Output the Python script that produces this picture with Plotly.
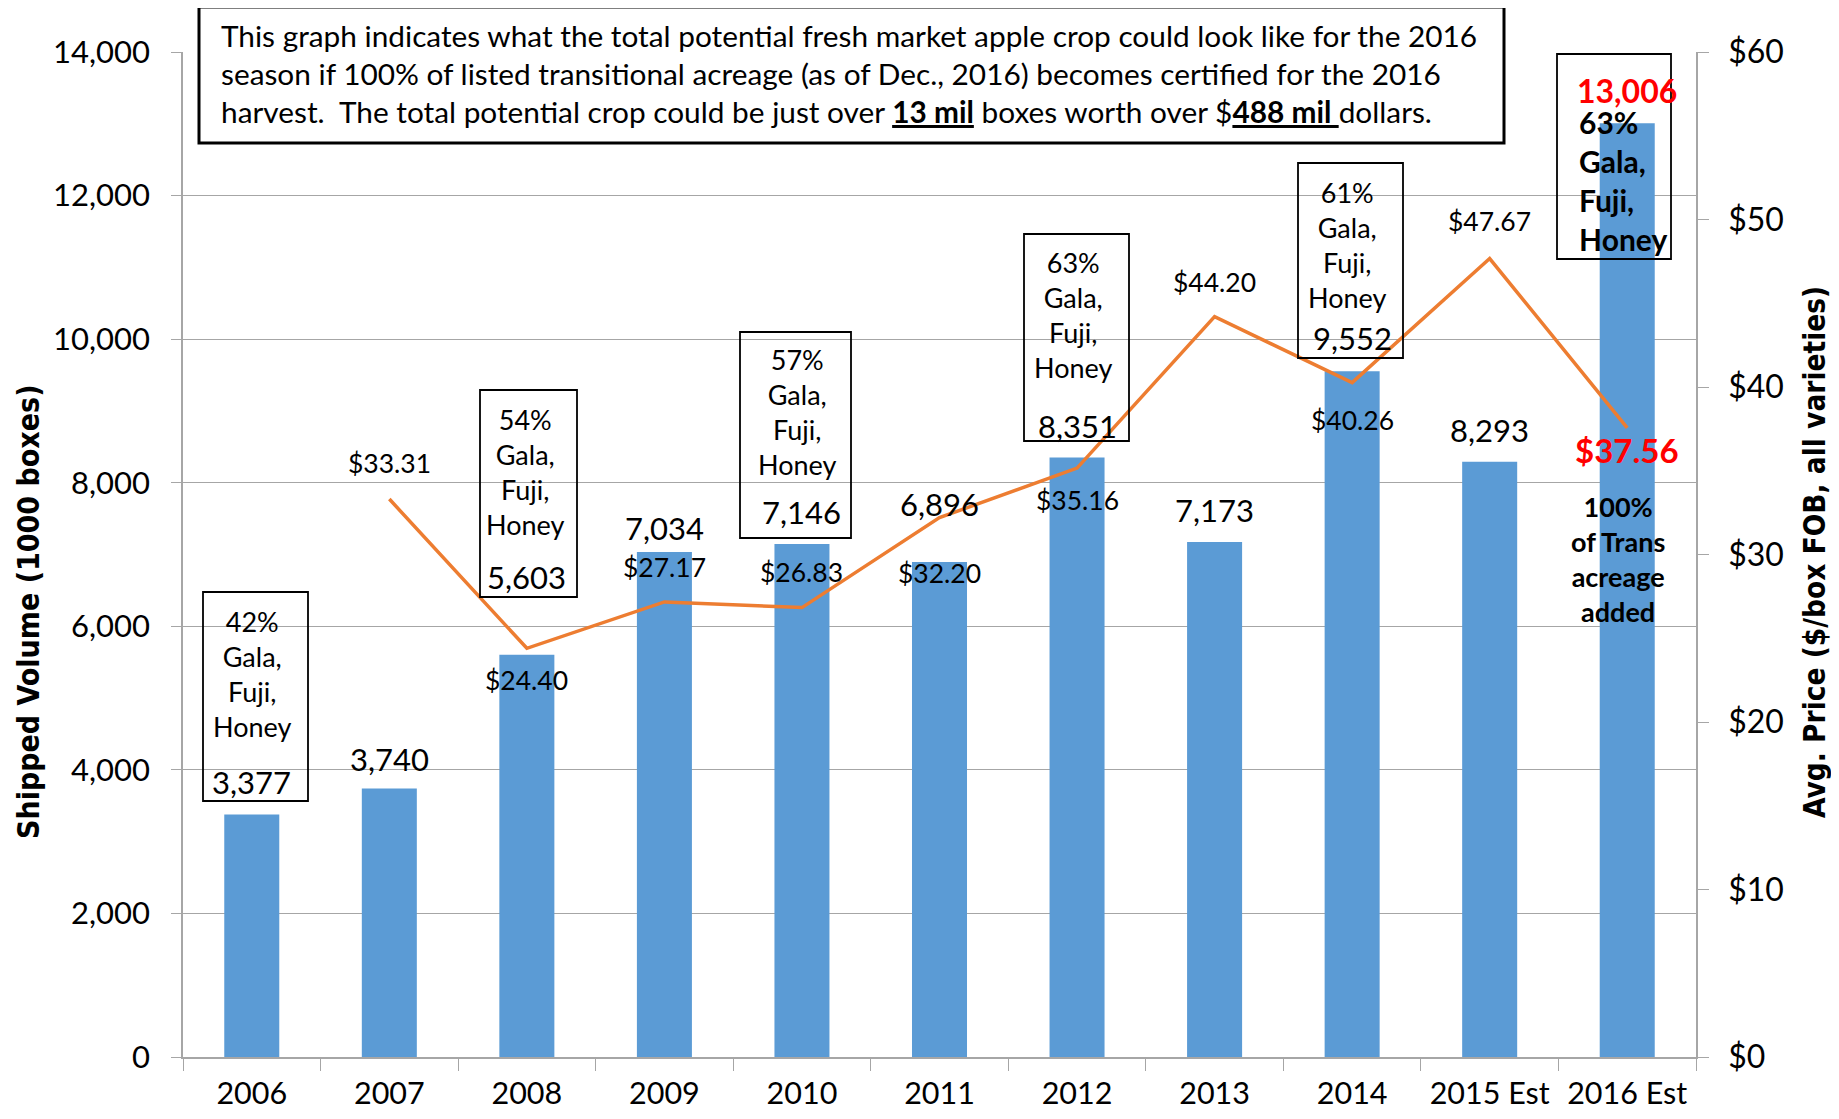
import plotly.graph_objects as go

# ---------------- data ----------------
years = ["2006", "2007", "2008", "2009", "2010", "2011", "2012", "2013", "2014", "2015 Est", "2016 Est"]
volume = [3377, 3740, 5603, 7034, 7146, 6896, 8351, 7173, 9552, 8293, 13006]
price_years = ["2007", "2008", "2009", "2010", "2011", "2012", "2013", "2014", "2015 Est", "2016 Est"]
price = [33.31, 24.40, 27.17, 26.83, 32.20, 35.16, 44.20, 40.26, 47.67, 37.56]
share_years = ["2006", "2008", "2010", "2012", "2014", "2016 Est"]
share_pct = ["42%", "54%", "57%", "63%", "61%", "63%"]

# ---------------- layout constants ----------------
# the page body has an 8px margin, so the figure is drawn 8px in from the window edges
OFF = 8
W, H = 1839 - 2 * OFF, 1119 - 2 * OFF
PX0, PX1, PY0, PY1 = 183 - OFF, 1696 - OFF, 52 - OFF, 1057 - OFF   # plot area in figure px
ML, MR, MT, MB = PX0, W - PX1, PY0, H - PY1
PW, PH = PX1 - PX0, PY1 - PY0

def px(x):  # window pixel -> paper x
    return (x - OFF - PX0) / PW

def py(y):  # window pixel -> paper y
    return (PY1 - (y - OFF)) / PH

FONT = "Lato, Carlito, Calibri, sans-serif"
NARROW = "Liberation Sans Narrow, Arial Narrow, DejaVu Sans Condensed, sans-serif"
GRID = "#a6a6a6"

# label offsets (pixels above the point; negative = below)
vol_shift = [33, 30, 78, 24, 32, 58, 32, 32, 33, 32, 33]
price_shift = [36, -32, 35, 36, -55, -32, 35, -37, 38, -22]

# text boxes in window pixel coords (x0, y0, x1, y1)
boxes = [(203, 592, 308, 801), (480, 390, 577, 597), (740, 332, 851, 538),
         (1024, 234, 1129, 441), (1298, 163, 1403, 358), (1557, 54, 1671, 259)]
box_text_pos = [(252, 674), (525, 472), (797, 412), (1073, 315), (1347, 245), (1577, 180)]

fig = go.Figure()
fig.add_trace(go.Bar(x=years, y=volume, marker=dict(color="#5B9BD5", line=dict(width=0)),
                     width=0.4, yaxis="y", showlegend=False))
fig.add_trace(go.Scatter(x=price_years, y=price, mode="lines",
                         line=dict(color="#ED7D31", width=3.5), yaxis="y2", showlegend=False))

ann = []
# volume labels
for i, v in enumerate(volume):
    last = i == len(years) - 1
    ann.append(dict(x=i, y=v, xref="x", yref="y", text=f"{v:,}", showarrow=False,
                    yanchor="middle", yshift=vol_shift[i],
                    font=dict(family=FONT, size=32 if last else 31,
                              color="#FF0000" if last else "#000000",
                              weight="bold" if last else "normal")))
# price labels
for i, (yr, p) in enumerate(zip(price_years, price)):
    last = i == len(price_years) - 1
    ann.append(dict(x=years.index(yr), y=p, xref="x", yref="y2", text=f"${p:.2f}",
                    showarrow=False, yanchor="middle", yshift=price_shift[i],
                    font=dict(family=FONT, size=33 if last else 26.5,
                              color="#FF0000" if last else "#000000",
                              weight="bold" if last else "normal")))
# share boxes text
for i, pct in enumerate(share_pct):
    last = i == len(share_pct) - 1
    tx, ty = box_text_pos[i]
    ann.append(dict(x=px(tx), y=py(ty), xref="paper", yref="paper",
                    text=f"{pct}<br>Gala,<br>Fuji,<br>Honey", showarrow=False,
                    xanchor="left" if last else "center", yanchor="middle",
                    align="left" if last else "center",
                    font=dict(family=FONT, size=30 if last else 27, color="#000000",
                              weight="bold" if last else "normal")))
# 2016 note
ann.append(dict(x=px(1618), y=py(559), xref="paper", yref="paper",
                text="100%<br>of Trans<br>acreage<br>added", showarrow=False,
                xanchor="center", yanchor="middle", align="center",
                font=dict(family=FONT, size=27, color="#000000", weight="bold")))
# title box text
title_lines = [
    "This graph indicates what the total potential fresh market apple crop could look like for the 2016",
    "season if 100% of listed transitional acreage (as of Dec., 2016) becomes certified for the 2016",
    "harvest.  The total potential crop could be just over <b><u>13 mil</u></b> boxes worth over $<b><u>488 mil </u></b>dollars.",
]
for line, ly in zip(title_lines, [36, 74, 112]):
    ann.append(dict(x=px(219), y=py(ly), xref="paper", yref="paper", text=line,
                    showarrow=False, xanchor="left", yanchor="middle", align="left",
                    font=dict(family=FONT, size=29.8, color="#000000")))
# axis titles
ann.append(dict(x=px(28), y=py(612), xref="paper", yref="paper",
                text="<b>Shipped Volume (1000 boxes)</b>", textangle=-90, showarrow=False,
                xanchor="center", yanchor="middle",
                font=dict(family=NARROW, size=30, color="#000000")))
ann.append(dict(x=px(1815), y=py(552), xref="paper", yref="paper",
                text="<b>Avg. Price ($/box FOB, all varieties)</b>", textangle=-90, showarrow=False,
                xanchor="center", yanchor="middle",
                font=dict(family=NARROW, size=29.5, color="#000000")))

shapes = []
for (x0, y0, x1, y1) in boxes:
    shapes.append(dict(type="rect", xref="paper", yref="paper",
                       x0=px(x0), x1=px(x1), y0=py(y1), y1=py(y0),
                       line=dict(color="#000000", width=1.8), fillcolor="rgba(0,0,0,0)",
                       layer="above"))
# title box (white filled, thick border)
shapes.append(dict(type="rect", xref="paper", yref="paper",
                   x0=px(199), x1=px(1504), y0=py(143), y1=py(7),
                   line=dict(color="#000000", width=3), fillcolor="#ffffff", layer="above"))

fig.update_layout(
    width=W, height=H,
    margin=dict(l=ML, r=MR, t=MT, b=MB, pad=0, autoexpand=False),
    paper_bgcolor="#ffffff", plot_bgcolor="#ffffff",
    font=dict(family=FONT, color="#000000"),
    xaxis=dict(type="category", showline=True, linecolor=GRID, linewidth=1.5,
               ticks="outside", tickson="boundaries", ticklen=12, tickcolor=GRID,
               tickfont=dict(family=FONT, size=30.5, color="#000000"), automargin=False,
               ticklabelstandoff=9, showgrid=False, range=[-0.5, 10.5]),
    yaxis=dict(range=[0, 14000], dtick=2000, tickformat=",", showgrid=True, automargin=False,
               gridcolor=GRID, gridwidth=1.3, showline=True, linecolor=GRID, linewidth=1.5,
               ticks="outside", ticklen=10, tickcolor=GRID, zeroline=False,
               tickfont=dict(family=FONT, size=31, color="#000000"), ticklabelstandoff=15),
    yaxis2=dict(range=[0, 60], dtick=10, tickprefix="$", overlaying="y", side="right",
                showgrid=False, showline=True, linecolor=GRID, linewidth=1.5, automargin=False,
                ticks="outside", ticklen=11, tickcolor=GRID, zeroline=False,
                tickfont=dict(family=FONT, size=32, color="#000000"), ticklabelstandoff=13),
    annotations=ann,
    shapes=shapes,
)

fig.write_html("out.html")
